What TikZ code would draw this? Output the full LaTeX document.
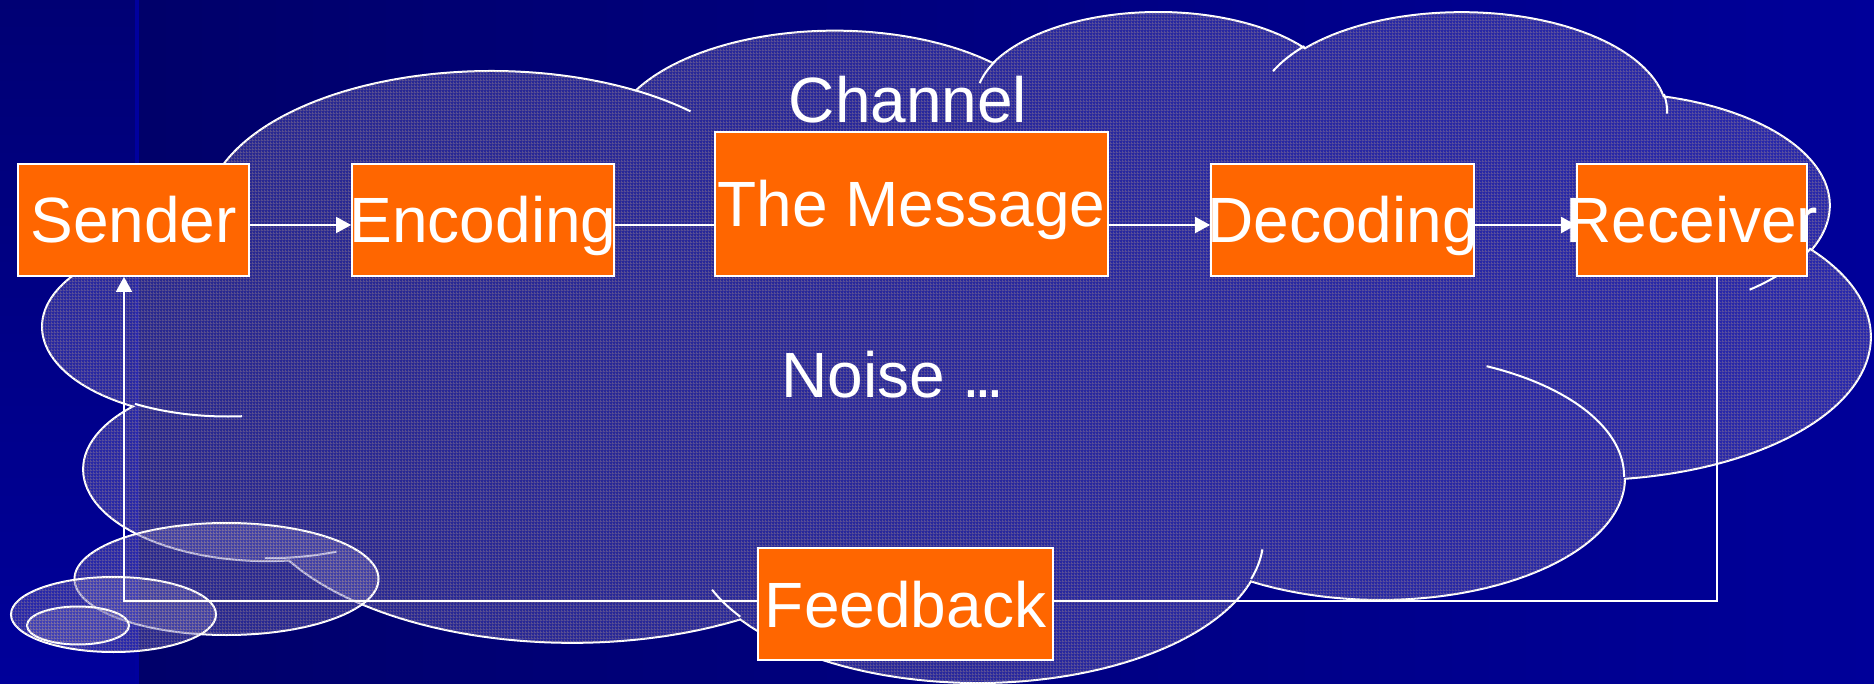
\documentclass[tikz,border=0pt]{standalone}
\usepackage{fontspec}
\setmainfont{Liberation Sans}
\usetikzlibrary{arrows.meta,patterns.meta}
\definecolor{bgdark}{HTML}{000066}
\definecolor{bglight}{HTML}{000099}
\definecolor{striptop}{HTML}{000074}
\definecolor{stripbot}{HTML}{00009A}
\definecolor{stripline}{HTML}{00009E}
\definecolor{boxorange}{HTML}{FF6600}
\definecolor{cloudbase}{RGB}{100,100,200}
\definecolor{meshtan}{RGB}{176,150,140}
\tikzdeclarepattern{
  name=mesh,
  type=uncolored,
  bottom left={(0pt,0pt)},
  top right={(1.5pt,1.5pt)},
  tile size={(1.5pt,1.5pt)},
  code={
    \pgfpathrectangle{\pgfpointorigin}{\pgfqpoint{1.5pt}{0.5pt}}
    \pgfpathrectangle{\pgfpointorigin}{\pgfqpoint{0.5pt}{1.5pt}}
    \pgfusepath{fill}
  }
}
\tikzset{
  stage/.style     = {rectangle, fill=boxorange, draw=white, line width=0.85pt,
                      text=white, font=\fontsize{32}{38}\selectfont,
                      inner sep=0pt, text height=23pt, text depth=0pt,
                      minimum height=56pt,
                      execute at begin node={\hbox to 0pt\bgroup\hss},
                      execute at end node={\hss\egroup}},
  caption/.style   = {text=white, font=\fontsize{32}{38}\selectfont, inner sep=0pt},
  cloudbody/.style = {draw=white, line width=1pt, fill=cloudbase, fill opacity=0.4,
                      postaction={pattern=mesh, pattern color=meshtan,
                                  fill opacity=0.35}},
  rim/.style       = {white, line width=1pt},
  flow/.style      = {white, line width=0.8pt, -{Triangle[length=7.5pt,width=8pt]}},
  link/.style      = {white, line width=0.8pt},
}
\begin{document}
\begin{tikzpicture}[x=0.5pt, y=-0.5pt]
  \useasboundingbox (0,0) rectangle (1874,684);
  \fill[left color=bgdark, right color=bglight] (0,0) rectangle (1874,684);
  \fill[top color=striptop, bottom color=stripbot] (0,0) rectangle (135,684);
  \fill[stripline] (135,0) rectangle (139,684);

  \begin{scope}[shift={(43.6,9.8)}, xscale=4.228, yscale=1.5526]
    \draw[cloudbody] (39.00,143.70)
      arc[start angle=-187.75, end angle=-59.64, x radius=67.53, y radius=91.90]
      arc[start angle=-152.02, end angle=-45.44, x radius=53.33, y radius=72.67]
      arc[start angle=-153.48, end angle=-37.33, x radius=43.65, y radius=59.45]
      arc[start angle=-139.70, end angle=-10.21, x radius=48.57, y radius=65.95]
      arc[start angle=-74.77,  end angle=23.21,  x radius=53.33, y radius=72.73]
      arc[start angle=-37.53,  end angle=81.86,  x radius=67.75, y radius=92.20]
      arc[start angle=0.46,    end angle=121.98, x radius=57.85, y radius=78.67]
      arc[start angle=16.85,   end angle=146.24, x radius=67.52, y radius=92.15]
      arc[start angle=58.98,   end angle=150.20, x radius=77.20, y radius=105.43]
      arc[start angle=-276.69, end angle=-136.87, x radius=43.60, y radius=59.18]
      arc[start angle=-239.65, end angle=-95.89, x radius=43.45, y radius=59.45]
      -- cycle;
    \draw[rim]
      (46.93,261.77)  arc[start angle=85.55,   end angle=120.35,  x radius=43.45, y radius=59.45]
      (69.28,348.99)  arc[start angle=68.24,   end angle=91.02,   x radius=43.60, y radius=59.18]
      (164.78,390.90) arc[start angle=146.24,  end angle=158.47,  x radius=67.52, y radius=92.15]
      (288.27,347.51) arc[start angle=4.74,    end angle=16.85,   x radius=67.52, y radius=92.15]
      (341.29,229.54) arc[start angle=-64.03,  end angle=0.46,    x radius=57.85, y radius=78.67]
      (417.98,153.54) arc[start angle=23.21,   end angle=49.64,   x radius=53.33, y radius=72.73]
      (383.24,54.26)  arc[start angle=-10.21,  end angle=0.82,    x radius=48.57, y radius=65.95]
      (290.78,39.52)  arc[start angle=-156.29, end angle=-139.70, x radius=48.57, y radius=65.95]
      (221.41,47.20)  arc[start angle=-167.73, end angle=-153.48, x radius=43.65, y radius=59.45]
      (140.00,51.92)  arc[start angle=-59.64,  end angle=-45.73,  x radius=67.53, y radius=91.90]
      (41.27,157.89)  arc[start angle=163.19,  end angle=172.25,  x radius=67.53, y radius=91.90];
  \end{scope}
  \draw[cloudbody] (226.5,579) ellipse [x radius=152, y radius=56];
  \draw[cloudbody] (113.5,614.5) ellipse [x radius=102.5, y radius=37.5];
  \draw[cloudbody] (78,625.5) ellipse [x radius=51, y radius=19];

  \node[stage, minimum width=115.5pt] (Sender)   at (133.5,220)  {Sender};
  \node[stage, minimum width=131pt]   (Encoding) at (483,220)    {Encoding};
  \node[stage, minimum width=196.5pt, minimum height=72pt]
                                      (Message)  at (911.5,204)  {The Message};
  \node[stage, minimum width=131.5pt] (Decoding) at (1342.5,220) {Decoding};
  \node[stage, minimum width=115pt]   (Receiver) at (1692,220)   {Receiver};
  \node[caption, anchor=base]         (Channel)  at (908,123)    {Channel};
  \node[caption, anchor=base west]    (Noise)    at (781,397)    {Noise .\kern-3pt.\kern-3pt.};

  \coordinate (row) at (0,225);
  \draw[flow] (Sender.east |- row)   -- (Encoding.west |- row);
  \draw[link] (Encoding.east |- row) -- (Message.west |- row);
  \draw[flow] (Message.east |- row)  -- (Decoding.west |- row);
  \draw[flow] (Decoding.east |- row) -- (Receiver.west |- row);

  \coordinate (fbR) at (1717,601);
  \coordinate (fbL) at (124,601);
  \draw[flow] (Receiver.south -| fbR) -- (fbR) -- (fbL) -- (Sender.south -| fbL);
  \node[stage, minimum width=147.5pt] (Feedback) at (905.5,604) {Feedback};
\end{tikzpicture}
\end{document}
